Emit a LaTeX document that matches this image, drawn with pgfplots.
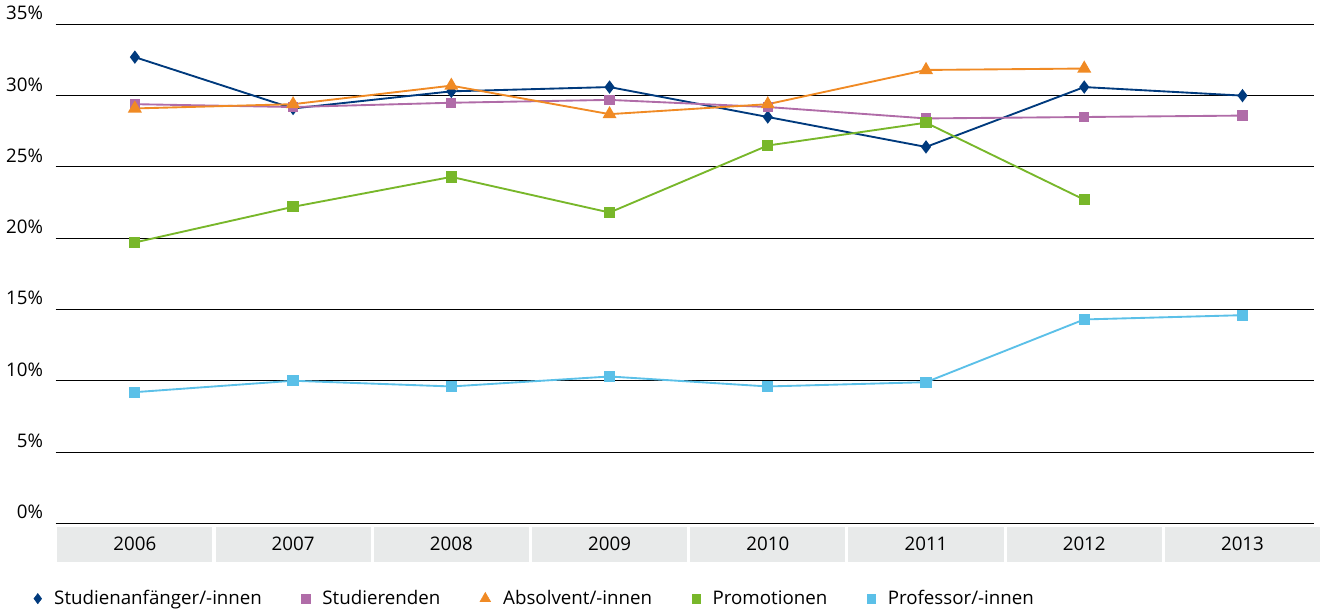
\documentclass[border=0pt]{standalone}
\usepackage{pgfplots}
\pgfplotsset{compat=1.18}
\usepackage{fontspec}
\setmainfont{Open Sans}
\definecolor{cA}{HTML}{003A7D}
\definecolor{cB}{HTML}{B06CA8}
\definecolor{cC}{HTML}{F08A24}
\definecolor{cD}{HTML}{78B72A}
\definecolor{cE}{HTML}{5BC0E8}
\definecolor{band}{HTML}{E8EAEA}
\begin{document}
\fontsize{18}{21}\selectfont
\begin{tikzpicture}
\begin{axis}[scale only axis, width=1205bp, height=478bp,
  xmin=-0.5, xmax=7.45, ymin=0, ymax=35,
  clip=false, axis line style={draw=none},
  ytick={0,5,...,35}, yticklabel={\pgfmathprintnumber{\tick}\%},
  /pgf/number format/assume math mode=true,
  yticklabel style={font=\fontsize{18}{21}\selectfont, anchor=south east, xshift=-6pt, yshift=-2pt},
  ymajorgrids, grid style={black, line width=0.9pt},
  major tick length=0pt,
  xtick=\empty,
  legend style={at={(-0.02,-0.125)}, anchor=north west, draw=none, legend columns=-1,
    font=\fontsize{18}{21}\selectfont, /tikz/every even column/.append style={column sep=36bp},
    /tikz/every odd column/.append style={column sep=10bp}},
  legend cell align=left,
]
\pgfplotsinvokeforeach{0,...,7}{
  \fill[band] (axis cs:#1-0.49,-0.25) rectangle (axis cs:#1+0.49,-2.7);
}
\pgfplotsinvokeforeach{2006,...,2013}{
  \node at (axis cs:#1-2006,-1.45) {#1};
}
\addplot[cA, line width=1.8pt, mark=diamond*, mark size=5pt, forget plot] coordinates {(0,32.7)(1,29.1)(2,30.3)(3,30.6)(4,28.5)(5,26.4)(6,30.6)(7,30.0)};
\addplot[cB, line width=1.8pt, mark=square*, mark size=4pt, forget plot] coordinates {(0,29.4)(1,29.2)(2,29.5)(3,29.7)(4,29.2)(5,28.4)(6,28.5)(7,28.6)};
\addplot[cC, line width=1.8pt, mark=triangle*, mark size=6pt, forget plot] coordinates {(0,29.1)(1,29.4)(2,30.7)(3,28.7)(4,29.4)(5,31.8)(6,31.9)};
\addplot[cD, line width=1.8pt, mark=square*, mark size=4.5pt, forget plot] coordinates {(0,19.7)(1,22.2)(2,24.3)(3,21.8)(4,26.5)(5,28.1)(6,22.7)};
\addplot[cE, line width=1.8pt, mark=square*, mark size=4.5pt, forget plot] coordinates {(0,9.2)(1,10.0)(2,9.6)(3,10.3)(4,9.6)(5,9.9)(6,14.3)(7,14.6)};
\addlegendimage{only marks, mark=diamond*, mark size=5pt, cA}
\addlegendentry{Studienanfänger/-innen}
\addlegendimage{only marks, mark=square*, mark size=4pt, cB}
\addlegendentry{Studierenden}
\addlegendimage{only marks, mark=triangle*, mark size=6pt, cC}
\addlegendentry{Absolvent/-innen}
\addlegendimage{only marks, mark=square*, mark size=4pt, cD}
\addlegendentry{Promotionen}
\addlegendimage{only marks, mark=square*, mark size=4pt, cE}
\addlegendentry{Professor/-innen}
\end{axis}
\end{tikzpicture}
\end{document}
